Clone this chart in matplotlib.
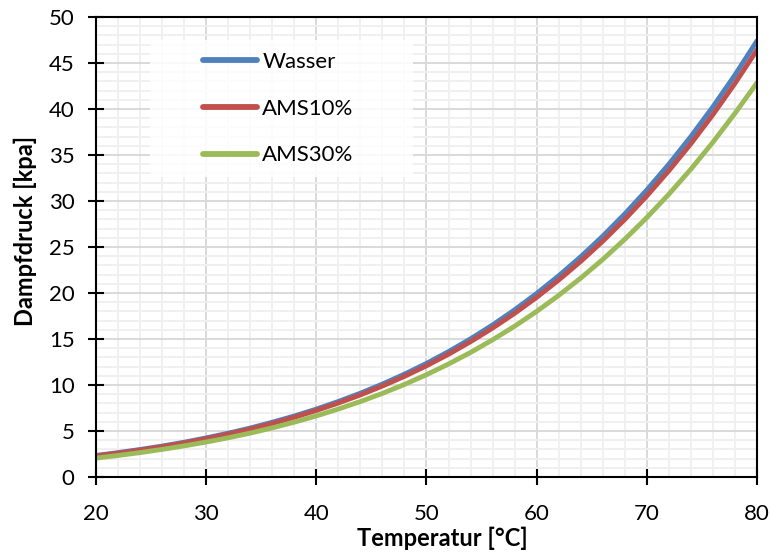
import matplotlib.pyplot as plt
from matplotlib.patches import Rectangle
from matplotlib.ticker import MultipleLocator

# Values (every 2 °C)
temperatur = [20, 22, 24, 26, 28, 30, 32, 34, 36, 38, 40, 42, 44, 46, 48, 50,
              52, 54, 56, 58, 60, 62, 64, 66, 68, 70, 72, 74, 76, 78, 80]
wasser = [2.34, 2.65, 2.99, 3.36, 3.78, 4.25, 4.76, 5.32, 5.95, 6.63, 7.38,
          8.21, 9.11, 10.10, 11.18, 12.35, 13.63, 15.02, 16.53, 18.17, 19.95,
          21.87, 23.94, 26.18, 28.60, 31.20, 34.00, 37.01, 40.24, 43.70, 47.41]
ams10 = [2.29, 2.59, 2.92, 3.29, 3.70, 4.16, 4.66, 5.21, 5.82, 6.49, 7.23,
         8.04, 8.92, 9.89, 10.94, 12.09, 13.34, 14.71, 16.19, 17.79, 19.53,
         21.41, 23.44, 25.63, 28.00, 30.55, 33.29, 36.23, 39.39, 42.79, 46.42]
ams30 = [2.05, 2.34, 2.65, 3.00, 3.38, 3.80, 4.26, 4.77, 5.34, 5.96, 6.64,
         7.39, 8.20, 9.09, 10.06, 11.12, 12.28, 13.54, 14.91, 16.39, 18.00,
         19.74, 21.62, 23.65, 25.84, 28.20, 30.74, 33.46, 36.39, 39.53, 42.85]

series = [("Wasser", wasser, "#4F81BD"),
          ("AMS10%", ams10, "#C0504D"),
          ("AMS30%", ams30, "#9BBB59")]

plt.rcParams["font.family"] = ["Lato", "DejaVu Sans"]

W, H = 772, 552
fig = plt.figure(figsize=(W / 100, H / 100), dpi=100)
ax = fig.add_axes([96 / W, 1 - 477 / H, 661 / W, 460 / H])

for name, vals, color in series:
    ax.plot(temperatur, vals, color=color, lw=3.5, label=name,
            solid_capstyle="round", zorder=3)

ax.set_xlim(20, 80)
ax.set_ylim(0, 50)
ax.xaxis.set_major_locator(MultipleLocator(10))
ax.xaxis.set_minor_locator(MultipleLocator(2))
ax.yaxis.set_major_locator(MultipleLocator(5))
ax.yaxis.set_minor_locator(MultipleLocator(1))

ax.grid(which="major", color="#d9d9d9", lw=1.4)
ax.grid(which="minor", color="#f0f0f0", lw=1.4)
ax.set_axisbelow(True)

ax.tick_params(which="major", direction="inout", length=11, width=1.5,
               labelsize=16, colors="black")
ax.tick_params(axis="x", pad=14)
ax.tick_params(axis="y", pad=10)
ax.tick_params(which="minor", length=0)
for sp in ax.spines.values():
    sp.set_linewidth(1.5)
    sp.set_color("black")
    sp.set_zorder(4)

ax.set_xlabel("Temperatur [°C]", fontsize=17, fontweight="bold", va="center")
ax.xaxis.set_label_coords(0.524, -0.1326)
ax.set_ylabel("Dampfdruck [kpa]", fontsize=17, fontweight="bold", va="center")
ax.yaxis.set_label_coords(-0.1074, 0.535)

# legend background (Excel-style, no border)
ax.add_patch(Rectangle((150 / W, 1 - 177 / H), 263 / W, 137 / H,
                       transform=fig.transFigure, facecolor="white",
                       edgecolor="none", alpha=0.85, zorder=2))

leg = ax.legend(loc="upper left", bbox_to_anchor=(203 / W, 1 - 52 / H),
                bbox_transform=fig.transFigure, fontsize=16, frameon=False,
                handlelength=2.45, handletextpad=0.22, labelspacing=1.2,
                borderpad=0, borderaxespad=0)
for line in leg.get_lines():
    line.set_linewidth(4.2)

fig.savefig("out.png", dpi=100)
